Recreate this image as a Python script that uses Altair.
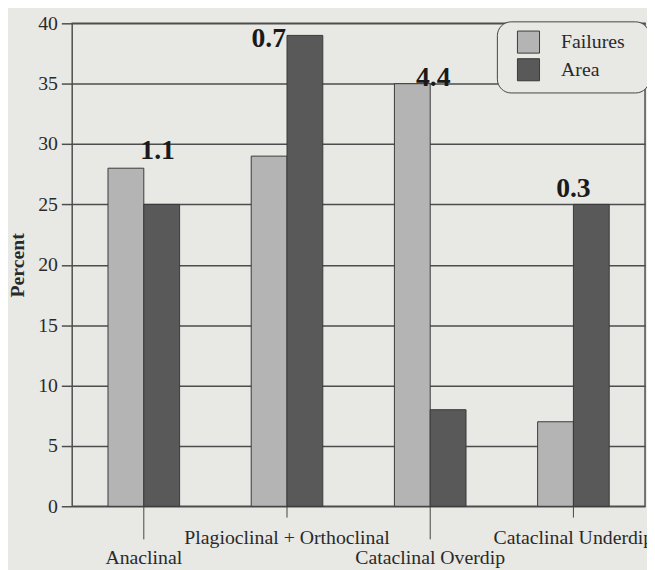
import altair as alt
import pandas as pd

categories = ["Anaclinal", "Plagioclinal + Orthoclinal", "Cataclinal Overdip", "Cataclinal Underdip"]
series = ["Failures", "Area"]
failures = [28, 29, 35, 7]
area = [25, 39, 8, 25]
ratio_labels = ["1.1", "0.7", "4.4", "0.3"]
y_ticks = [0, 5, 10, 15, 20, 25, 30, 35, 40]

rows = []
for c, f, a in zip(categories, failures, area):
    rows.append({"category": c, "series": "Failures", "value": f})
    rows.append({"category": c, "series": "Area", "value": a})
bars_df = pd.DataFrame(rows)
labels_df = pd.DataFrame({
    "category": categories,
    "label": ratio_labels,
    "top": [max(f, a) for f, a in zip(failures, area)],
})

FONT = "Liberation Serif"
INK = "#2a2a2a"
long_test = "datum.value == 'Anaclinal' || datum.value == 'Cataclinal Overdip'"
# non-breaking spaces kept from trimming by a zero-width char: widens the legend box
LEGEND_PAD = "\u00a0" * 3 + "\u200b"

x_enc = alt.X(
    "category:N",
    sort=categories,
    scale=alt.Scale(domain=categories, paddingInner=0.5, paddingOuter=0.25),
    axis=alt.Axis(
        title=None,
        domain=False,
        labelAngle=0,
        labelFont=FONT,
        labelFontSize=20,
        labelColor=INK,
        labelLimit=400,
        labelBaseline="alphabetic",
        labelPadding={"condition": {"test": long_test, "value": 25}, "value": 27},
        tickColor="#444",
        tickWidth=1,
        tickSize={"condition": {"test": long_test, "value": 33}, "value": 11},
    ),
)
y_enc = alt.Y(
    "value:Q",
    scale=alt.Scale(domain=[0, 40], nice=False),
    axis=alt.Axis(
        values=y_ticks,
        title="Percent",
        titleFont=FONT,
        titleFontSize=20,
        titleFontWeight="bold",
        titleColor=INK,
        titlePadding=10,
        labelFont=FONT,
        labelFontSize=20,
        labelColor=INK,
        labelPadding=4,
        tickSize=11,
        tickColor="#4d4d4d",
        tickWidth=1.5,
        domain=False,
        grid=True,
        gridColor="#4d4d4d",
        gridWidth=1.5,
        gridOpacity=1,
    ),
)

bars = alt.Chart(bars_df).mark_bar(stroke="#3a3a3a", strokeWidth=1).encode(
    x=x_enc,
    xOffset=alt.XOffset("series:N", sort=series, scale=alt.Scale(domain=series, paddingInner=0, paddingOuter=0)),
    y=y_enc,
    color=alt.Color(
        "series:N",
        sort=series,
        scale=alt.Scale(domain=series, range=["#b4b4b4", "#595959"]),
        legend=alt.Legend(
            title=None,
            orient="none",
            legendX=430,
            legendY=-2,
            symbolType="square",
            symbolSize=500,
            symbolStrokeColor="#3a3a3a",
            symbolStrokeWidth=1,
            symbolOffset=11,
            labelFont=FONT,
            labelFontSize=20,
            labelColor=INK,
            labelOffset=21,
            rowPadding=0,
            padding=9,
            strokeColor="#444",
            cornerRadius=14,
            fillColor="#e8e8e5",
            labelExpr="datum.label + '" + LEGEND_PAD + "'",
        ),
    ),
)

label_styles = {
    "1.1": {"align": "center", "dx": 14, "dy": -9},
    "0.7": {"align": "right", "dx": -1, "dy": 12},
    "4.4": {"align": "center", "dx": 3, "dy": 2},
    "0.3": {"align": "center", "dx": 0, "dy": -8},
}

layers = [bars]
for lab, st in label_styles.items():
    layers.append(
        alt.Chart(labels_df).transform_filter(alt.datum.label == lab).mark_text(
            font=FONT, fontSize=28, fontWeight="bold", color="#1a1a1a",
            baseline="alphabetic", **st,
        ).encode(
            x=alt.X("category:N", sort=categories),
            y=alt.Y("top:Q"),
            text="label:N",
        )
    )

chart = alt.layer(*layers).properties(
    width=580,
    height=489,
    background="#e8e8e5",
    padding={"left": 65, "top": 12, "right": 2, "bottom": 61},
    autosize=alt.AutoSizeParams(type="none"),
).configure_view(
    stroke="#4d4d4d", strokeWidth=1.5
)

chart.save("out.html", embed_options={"renderer": "svg", "actions": False})
